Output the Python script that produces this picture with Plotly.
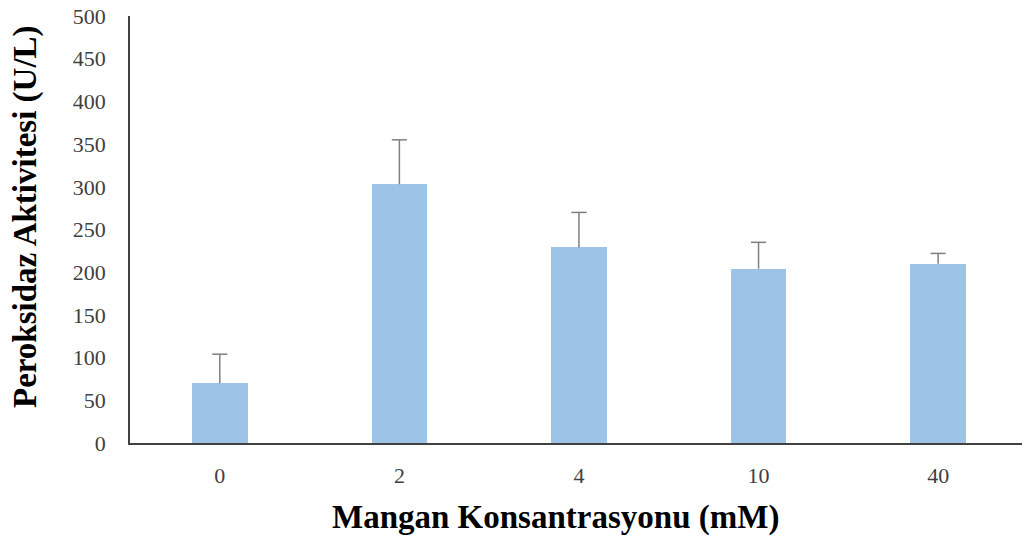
import plotly.graph_objects as go

# Peroxidase activity versus manganese concentration
concentrations = ["0", "2", "4", "10", "40"]
activity = [70, 303, 229, 204, 210]
activity_sd = [34, 52, 41, 31, 12]

y_ticks = [0, 50, 100, 150, 200, 250, 300, 350, 400, 450, 500]

bar_color = "#9DC3E6"
err_color = "#7f7f7f"
font_family = "Liberation Serif, Times New Roman, serif"
cap_half = 0.042  # half cap width, in category units

positions = list(range(len(concentrations)))

# Upper-only error bars drawn as line segments (stem + top cap)
err_x, err_y = [], []
for pos, mean, sd in zip(positions, activity, activity_sd):
    top = mean + sd
    err_x += [pos, pos, None, pos - cap_half, pos + cap_half, None]
    err_y += [mean, top, None, top, top, None]

fig = go.Figure()
fig.add_trace(
    go.Bar(
        x=positions,
        y=activity,
        width=0.31,
        marker=dict(color=bar_color, line=dict(width=0)),
        hoverinfo="x+y",
    )
)
fig.add_trace(
    go.Scatter(
        x=err_x,
        y=err_y,
        mode="lines",
        line=dict(color=err_color, width=1.5),
        hoverinfo="skip",
        connectgaps=False,
    )
)

fig.update_layout(
    width=1024,
    height=536,
    margin=dict(l=130, r=2, t=16, b=93),
    paper_bgcolor="white",
    plot_bgcolor="white",
    showlegend=False,
    font=dict(family=font_family, color="#404040", size=22),
    bargap=0,
    annotations=[
        dict(
            text="<b>Mangan Konsantrasyonu (mM)</b>",
            xref="paper", yref="paper",
            x=(555 - 130) / 892, y=(536 - 93 - 517) / 427,
            xanchor="center", yanchor="middle",
            showarrow=False,
            font=dict(family=font_family, size=33, color="#000000"),
        ),
        dict(
            text="<b>Peroksidaz Aktivitesi (U/L)</b>",
            xref="paper", yref="paper",
            x=(25 - 130) / 892, y=(443 - 217) / 427,
            xanchor="center", yanchor="middle",
            textangle=-90,
            showarrow=False,
            font=dict(family=font_family, size=33, color="#000000"),
        ),
    ],
)

fig.update_xaxes(
    tickmode="array",
    tickvals=positions,
    ticktext=concentrations,
    range=[-0.5, 4.467],
    showline=True,
    linecolor="#404040",
    linewidth=1.5,
    showgrid=False,
    zeroline=False,
    ticks="",
    ticklabelstandoff=12,
    tickfont=dict(family=font_family, size=22, color="#404040"),
)

fig.update_yaxes(
    range=[0, 500],
    tickmode="array",
    tickvals=y_ticks,
    showline=True,
    linecolor="#404040",
    linewidth=1.5,
    showgrid=False,
    zeroline=False,
    ticks="",
    ticklabelstandoff=18,
    tickfont=dict(family=font_family, size=22, color="#404040"),
)

fig.write_html("out.html")
